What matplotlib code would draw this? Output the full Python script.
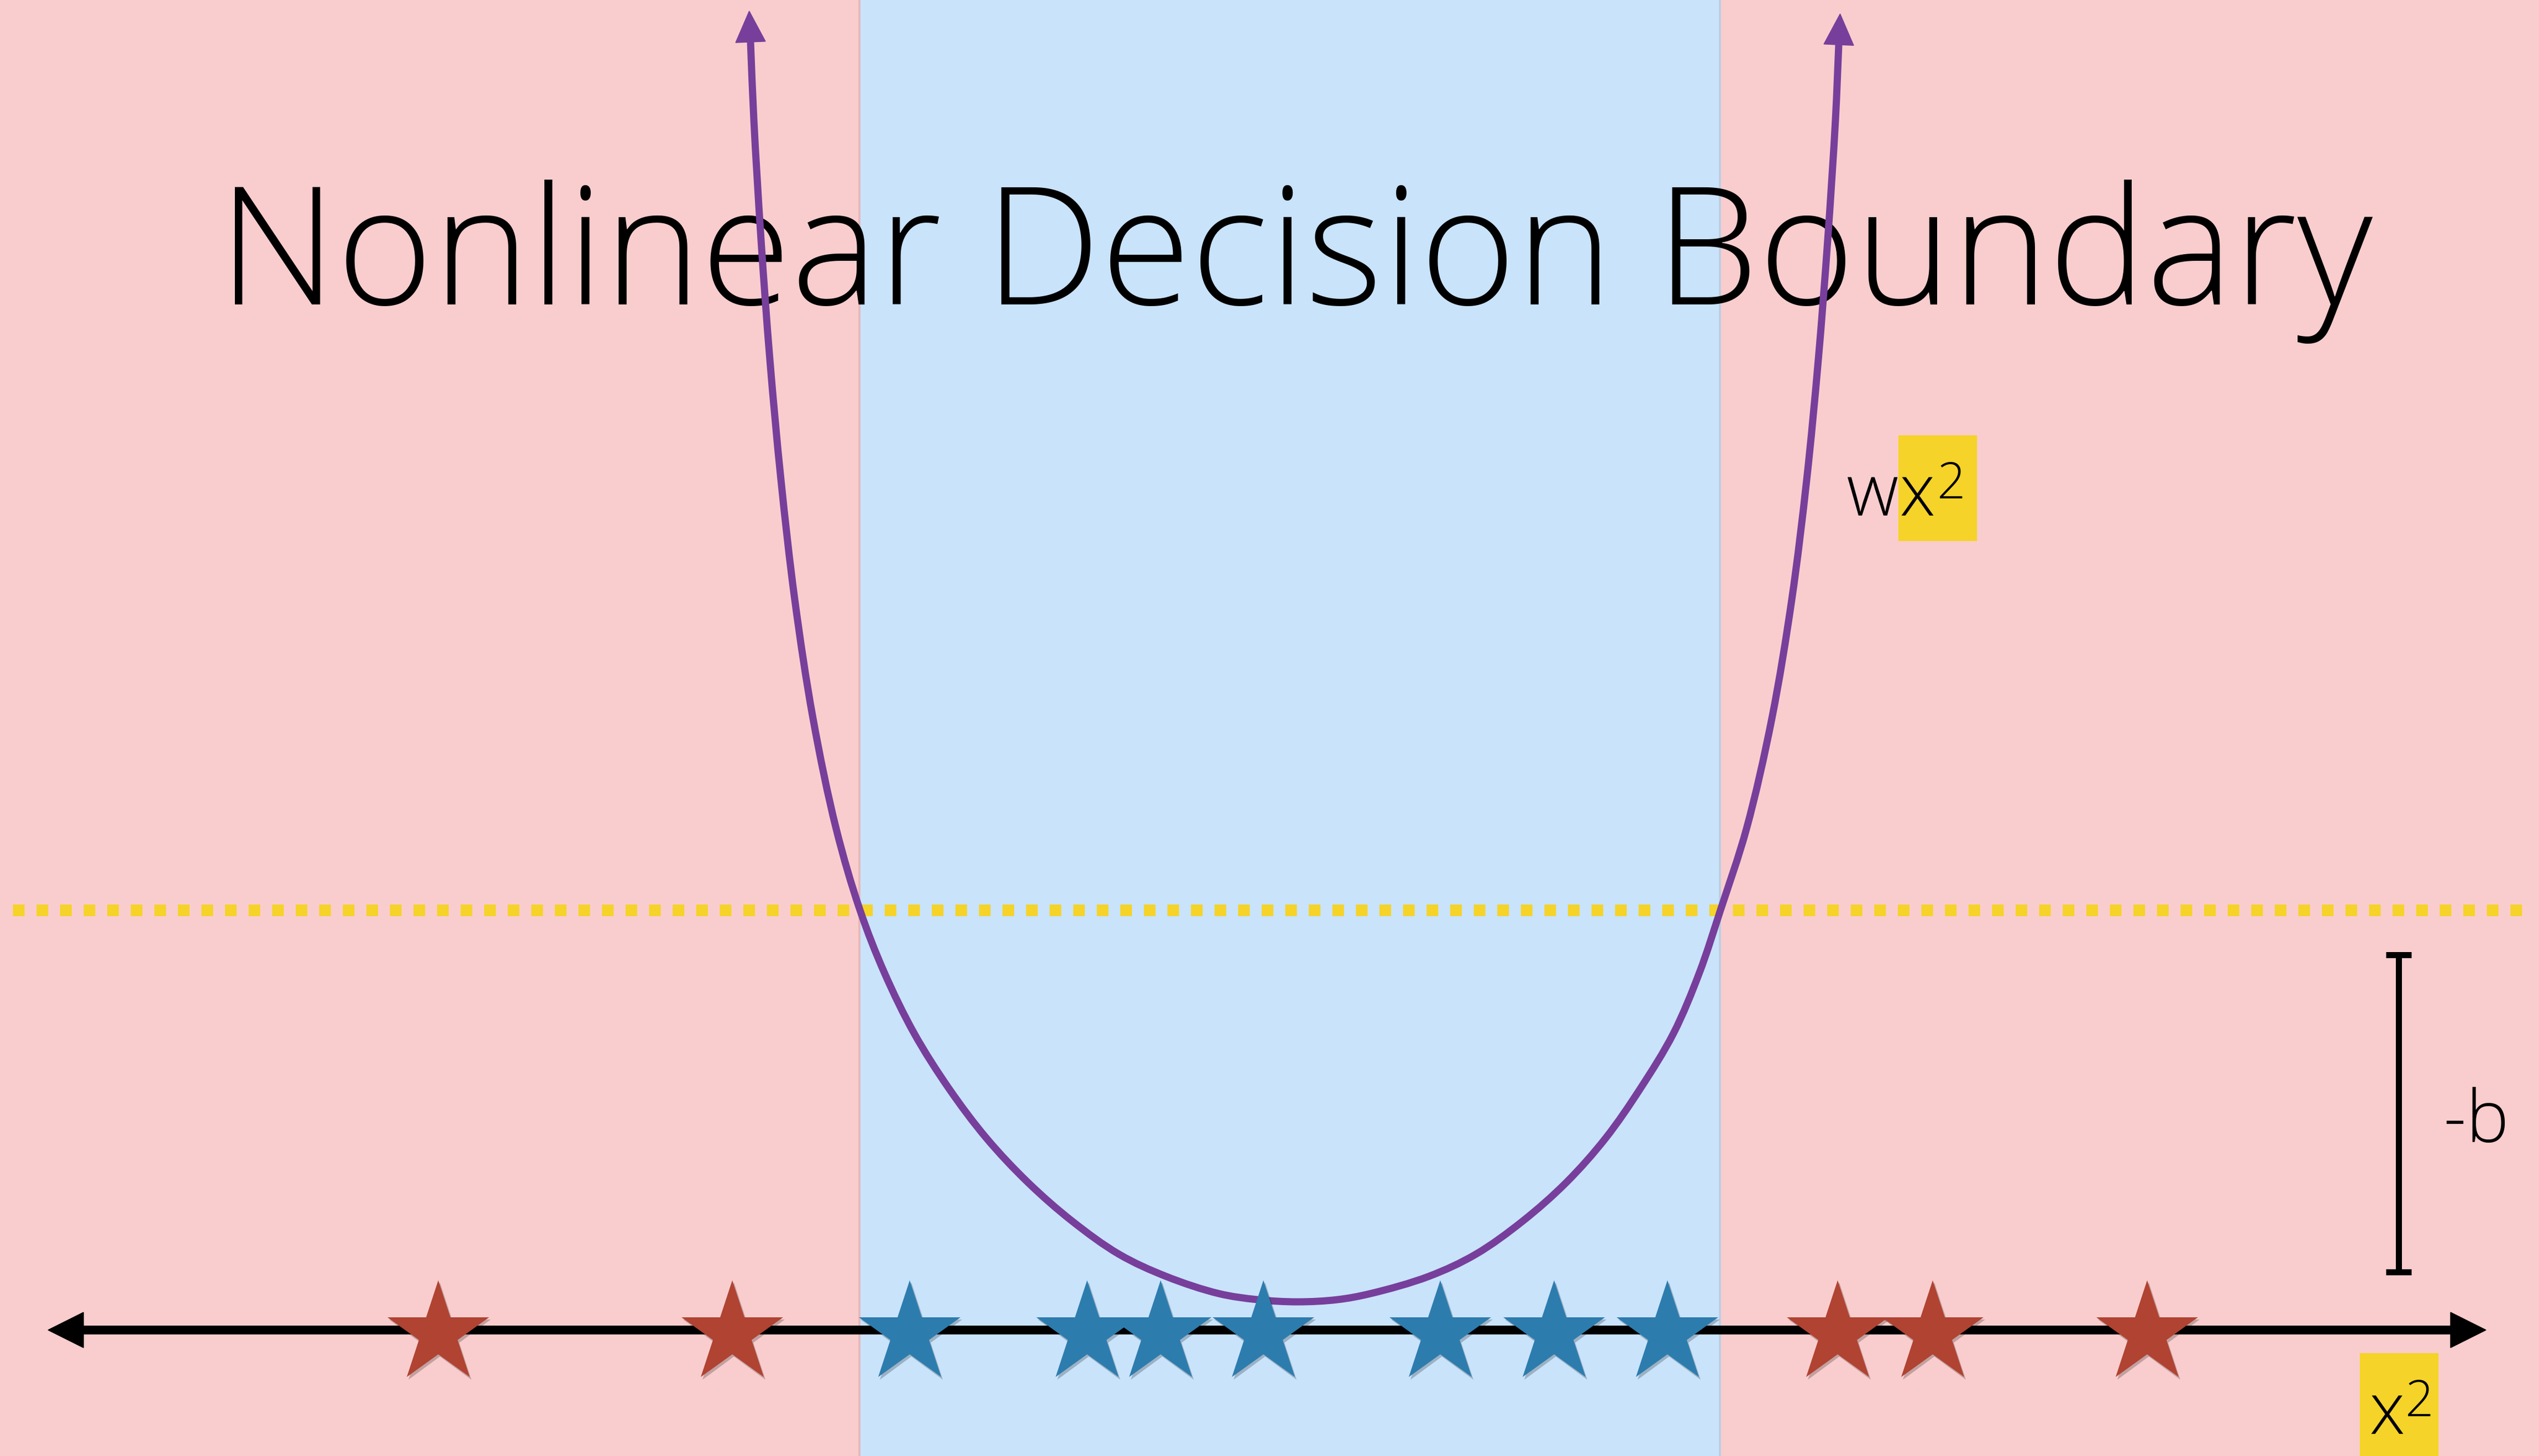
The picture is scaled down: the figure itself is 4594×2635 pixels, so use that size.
import numpy as np
import matplotlib
matplotlib.use("Agg")
import matplotlib.pyplot as plt
from matplotlib.path import Path
from matplotlib.patches import PathPatch, Polygon, Rectangle
import matplotlib.patheffects as pe

# ---------------- data (in picture units) ----------------
title = "Nonlinear Decision Boundary"
red_x = [793, 1325, 3325, 3497, 3885]
blue_x = [1646, 1967, 2100, 2286, 2606, 2812, 3017]
axis_y = 2407
star_y = 2414
region_lo, region_hi = 1557, 3111      # blue (positive) interval
threshold_y = 1647                     # -b level
bracket_top, bracket_bot = 1728, 2302
curve_x = [1358, 1364, 1377, 1393, 1413, 1438, 1471, 1513, 1556, 1600, 1654,
           1717, 1785, 1860, 1940, 2025, 2110, 2205, 2275, 2348, 2420,
           2480, 2585, 2670, 2755, 2834, 2905, 2968, 3028, 3075, 3113, 3160,
           3206, 3242, 3269, 3290, 3307, 3321, 3327]
curve_y = [76, 217, 434, 651, 868, 1085, 1300, 1500, 1647, 1760, 1870,
           1970, 2060, 2140, 2210, 2270, 2310, 2341, 2352, 2356, 2352,
           2341, 2310, 2270, 2210, 2140, 2060, 1970, 1870, 1760, 1647, 1500,
           1300, 1085, 868, 651, 434, 217, 81]

# ---------------- style ----------------
W, H, DPI = 4594, 2635, 100
PX = 72.0 / DPI
PINK = "#F9CDCD"
BLUE_BG = "#C9E3FB"
YELLOW = "#F5D328"
PURPLE = "#773F9B"
RED = "#B04332"
BLUE = "#2D7CAE"
FONT = ["Open Sans", "DejaVu Sans"]
WEIGHT = "light"

fig = plt.figure(figsize=(W / DPI, H / DPI), dpi=DPI)
ax = fig.add_axes([0, 0, 1, 1])
ax.set_xlim(0, W)
ax.set_ylim(H, 0)
ax.axis("off")

# backgrounds
ax.add_patch(Rectangle((0, 0), W, H, color=PINK, zorder=0))
ax.add_patch(Rectangle((region_lo, 0), region_hi - region_lo, H, color=BLUE_BG, zorder=1))
ax.plot([region_lo - 2, region_lo - 2], [0, H], color="#E6B8BC", lw=4 * PX, zorder=1.1)
ax.plot([region_hi + 1, region_hi + 1], [0, H], color="#BCCFE2", lw=4 * PX, zorder=1.1)

# threshold dotted line
ax.plot([23, 4572], [threshold_y, threshold_y], color=YELLOW, lw=21 * PX,
        dashes=(1.0, 1.03), dash_capstyle="butt", solid_capstyle="butt", zorder=2)

# number line with arrow heads
ax.plot([150, 4435], [axis_y, axis_y], color="black", lw=16 * PX,
        solid_capstyle="butt", zorder=3)
ax.add_patch(Polygon([[87, axis_y], [151, axis_y - 32], [151, axis_y + 32]],
                     closed=True, color="black", zorder=3))
ax.add_patch(Polygon([[4498, axis_y], [4434, axis_y - 32], [4434, axis_y + 32]],
                     closed=True, color="black", zorder=3))

# title
ax.text(2344, 551, title, fontsize=214, family=FONT, fontweight=WEIGHT,
        ha="center", va="baseline", color="black", zorder=4)

# curve: centripetal Catmull-Rom drawn as cubic Bezier segments through the read points
pts = np.column_stack([curve_x, curve_y]).astype(float)
verts = [pts[0]]
codes = [Path.MOVETO]
n = len(pts)
for i in range(n - 1):
    p0 = pts[i - 1] if i > 0 else 2 * pts[i] - pts[i + 1]
    p1, p2 = pts[i], pts[i + 1]
    p3 = pts[i + 2] if i + 2 < n else 2 * pts[i + 1] - pts[i]
    d0 = max(np.hypot(*(p1 - p0)) ** 0.5, 1e-6)
    d1 = max(np.hypot(*(p2 - p1)) ** 0.5, 1e-6)
    d2 = max(np.hypot(*(p3 - p2)) ** 0.5, 1e-6)
    m1 = ((p1 - p0) / d0 - (p2 - p0) / (d0 + d1) + (p2 - p1) / d1) * d1
    m2 = ((p2 - p1) / d1 - (p3 - p1) / (d1 + d2) + (p3 - p2) / d2) * d1
    verts += [p1 + m1 / 3.0, p2 - m2 / 3.0, p2]
    codes += [Path.CURVE4] * 3
ax.add_patch(PathPatch(Path(verts, codes), fill=False, edgecolor=PURPLE,
                       lw=13 * PX, capstyle="butt", joinstyle="round", zorder=5))


def head(base, prev, length=56, half=27):
    d = base - prev
    d = d / np.hypot(*d)
    nrm = np.array([-d[1], d[0]])
    tip = base + d * length
    return [tip, base + nrm * half, base - nrm * half]


ax.add_patch(Polygon(head(pts[0], pts[1]), closed=True, color=PURPLE, zorder=5))
ax.add_patch(Polygon(head(pts[-1], pts[-2]), closed=True, color=PURPLE, zorder=5))

# stars
shadow = [pe.SimplePatchShadow(offset=(2, -3), shadow_rgbFace="black", alpha=0.22),
          pe.Normal()]
ms = 2 * 97 * PX
ax.plot(red_x, [star_y] * len(red_x), linestyle="none", marker="*", markersize=ms,
        markerfacecolor=RED, markeredgewidth=0, zorder=6, path_effects=shadow)
ax.plot(blue_x, [star_y] * len(blue_x), linestyle="none", marker="*", markersize=ms,
        markerfacecolor=BLUE, markeredgewidth=0, zorder=6, path_effects=shadow)

# -b bracket
bx = 4340
ax.plot([bx, bx], [bracket_top, bracket_bot], color="black", lw=11 * PX,
        solid_capstyle="butt", zorder=6)
for yy in (bracket_top, bracket_bot):
    ax.plot([bx - 23, bx + 23], [yy, yy], color="black", lw=11 * PX,
            solid_capstyle="butt", zorder=6)
ax.text(4420, 2067, "-b", fontsize=94, family=FONT, fontweight=WEIGHT,
        ha="left", va="baseline", zorder=7)

# wx^2 label
ax.add_patch(Rectangle((3435, 788), 141, 190, color=YELLOW, zorder=6))
ax.text(3340, 933, "w", fontsize=94, family=FONT, fontweight=WEIGHT,
        ha="left", va="baseline", zorder=7)
ax.text(3437, 933, "x", fontsize=94, family=FONT, fontweight=WEIGHT,
        ha="left", va="baseline", zorder=7)
ax.text(3505, 902, "2", fontsize=65, family=FONT, fontweight=WEIGHT,
        ha="left", va="baseline", zorder=7)

# x^2 axis label
ax.add_patch(Rectangle((4270, 2449), 141, 200, color=YELLOW, zorder=6))
ax.text(4286, 2595, "x", fontsize=94, family=FONT, fontweight=WEIGHT,
        ha="left", va="baseline", zorder=7)
ax.text(4352, 2563, "2", fontsize=65, family=FONT, fontweight=WEIGHT,
        ha="left", va="baseline", zorder=7)

fig.savefig("out.png", dpi=DPI)
